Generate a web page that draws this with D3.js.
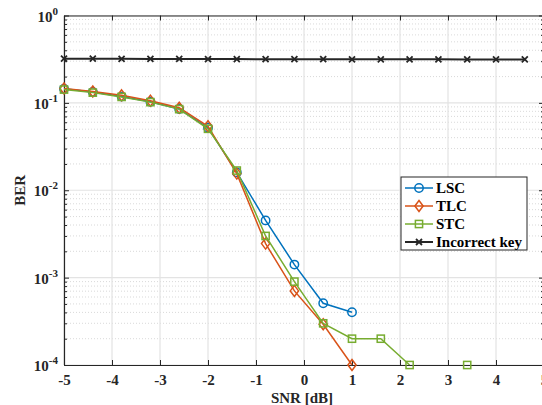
<!DOCTYPE html>
<html>
<head>
<meta charset="utf-8">
<script src="https://cdn.jsdelivr.net/npm/d3@7"></script>
<style>
  html, body { margin: 0; padding: 0; background: #fff; }
  svg { display: block; }
  text { font-family: "Liberation Serif", "Times New Roman", serif; font-weight: bold; }
</style>
</head>
<body>
<script>
// SNR sample points (dB)
const snrMain = [-5, -4.4, -3.8, -3.2, -2.6, -2.0, -1.4, -0.8, -0.2, 0.4, 1.0];
const snrSTC = [-5, -4.4, -3.8, -3.2, -2.6, -2.0, -1.4, -0.8, -0.2, 0.4, 1.0, 1.6, 2.2, 2.8, 3.4];
const snrKey = [-5, -4.4, -3.8, -3.2, -2.6, -2.0, -1.4, -0.8, -0.2, 0.4, 1.0, 1.6, 2.2, 2.8, 3.4, 4.0, 4.6];

// BER values per scheme (null = no error observed)
const berLSC = [0.145, 0.133, 0.118, 0.103, 0.085, 0.052, 0.0160, 0.00452, 0.00141, 0.000509, 0.000401];
const berTLC = [0.146, 0.135, 0.122, 0.106, 0.088, 0.054, 0.0155, 0.00245, 0.000705, 0.000293, 0.0001];
const berSTC = [0.142, 0.131, 0.117, 0.102, 0.0848, 0.0505, 0.0168, 0.0030, 0.0009, 0.0003, 0.0002, 0.0002, 0.0001, null, 0.0001];
const berKey = [0.320, 0.320, 0.319, 0.318, 0.318, 0.317, 0.317, 0.316, 0.316, 0.316, 0.315, 0.315, 0.315, 0.315, 0.314, 0.314, 0.314];

const xTicks = [-5, -4, -3, -2, -1, 0, 1, 2, 3, 4, 5];
const yTicks = [1e-4, 1e-3, 1e-2, 1e-1, 1];

const W = 542, H = 405;
const plot = { left: 64, right: 544, top: 15.5, bottom: 365 };

const svg = d3.select("body").append("svg").attr("width", W).attr("height", H);

const x = d3.scaleLinear().domain([-5, 5]).range([plot.left, plot.right]);
const y = d3.scaleLog().domain([1e-4, 1]).range([plot.bottom, plot.top]);

// minor decade values
const minor = [];
for (let e = -4; e < 0; e++) for (let m = 2; m <= 9; m++) minor.push(m * Math.pow(10, e));

const grid = svg.append("g");
// minor horizontal grid (dotted)
grid.selectAll("line.minor").data(minor).join("line")
  .attr("x1", plot.left).attr("x2", plot.right)
  .attr("y1", d => y(d)).attr("y2", d => y(d))
  .attr("stroke", "#cfcfcf").attr("stroke-width", 0.8).attr("stroke-dasharray", "1,2");
// major grid
grid.selectAll("line.hmaj").data(yTicks).join("line")
  .attr("x1", plot.left).attr("x2", plot.right)
  .attr("y1", d => y(d)).attr("y2", d => y(d))
  .attr("stroke", "#e3e3e3").attr("stroke-width", 1.2);
grid.selectAll("line.vmaj").data(xTicks).join("line")
  .attr("x1", d => x(d)).attr("x2", d => x(d))
  .attr("y1", plot.top).attr("y2", plot.bottom)
  .attr("stroke", "#e3e3e3").attr("stroke-width", 1.2);

// axes (ticks inward)
const axisColor = "#262626";
const fmtX = d => d3.format("d")(d).replace("−", "-");

const xAxisB = svg.append("g").attr("transform", `translate(0,${plot.bottom})`)
  .call(d3.axisBottom(x).tickValues(xTicks).tickFormat(fmtX).tickSizeInner(-5).tickSizeOuter(0).tickPadding(9));
const xAxisT = svg.append("g").attr("transform", `translate(0,${plot.top})`)
  .call(d3.axisTop(x).tickValues(xTicks).tickFormat("").tickSizeInner(-5).tickSizeOuter(0));
const yAxisL = svg.append("g").attr("transform", `translate(${plot.left},0)`)
  .call(d3.axisLeft(y).tickValues(yTicks).tickFormat("").tickSizeInner(-5).tickSizeOuter(0));
const yAxisR = svg.append("g").attr("transform", `translate(${plot.right},0)`)
  .call(d3.axisRight(y).tickValues(yTicks).tickFormat("").tickSizeInner(-5).tickSizeOuter(0));
const yMinorL = svg.append("g").attr("transform", `translate(${plot.left},0)`)
  .call(d3.axisLeft(y).tickValues(minor).tickFormat("").tickSizeInner(-3).tickSizeOuter(0));
const yMinorR = svg.append("g").attr("transform", `translate(${plot.right},0)`)
  .call(d3.axisRight(y).tickValues(minor).tickFormat("").tickSizeInner(-3).tickSizeOuter(0));

[xAxisB, xAxisT, yAxisL, yAxisR, yMinorL, yMinorR].forEach(g => {
  g.selectAll("path.domain").attr("stroke", axisColor).attr("stroke-width", 1.1);
  g.selectAll(".tick line").attr("stroke", axisColor).attr("stroke-width", 1);
});
xAxisB.selectAll(".tick text").attr("fill", "#262626").attr("font-size", 15)
  .style("font-family", '"Liberation Serif", serif').style("font-weight", "bold");

// y tick labels: 10^n
const yLab = svg.append("g");
yTicks.forEach(v => {
  const e = Math.round(Math.log10(v));
  const t = yLab.append("text")
    .attr("x", plot.left - 6).attr("y", y(v) + 6)
    .attr("text-anchor", "end").attr("fill", "#262626").attr("font-size", 15);
  t.append("tspan").text("10");
  t.append("tspan").attr("dy", -7).attr("font-size", 11).text(String(e).replace("−", "-"));
});

// axis titles
svg.append("text").attr("x", (plot.left + plot.right) / 2 - 2).attr("y", 403)
  .attr("text-anchor", "middle").attr("font-size", 15).attr("fill", "#262626").text("SNR [dB]");
svg.append("text").attr("transform", `translate(25,${(plot.top + plot.bottom) / 2}) rotate(-90)`)
  .attr("text-anchor", "middle").attr("font-size", 15).attr("fill", "#262626").text("BER");

// series
const series = [
  { name: "LSC", xs: snrMain, ys: berLSC, color: "#0072BD", marker: "circle" },
  { name: "TLC", xs: snrMain, ys: berTLC, color: "#D95319", marker: "diamond" },
  { name: "STC", xs: snrSTC, ys: berSTC, color: "#77AC30", marker: "square" },
  { name: "Incorrect key", xs: snrKey, ys: berKey, color: "#262626", marker: "cross" }
];

svg.append("clipPath").attr("id", "plotclip").append("rect")
  .attr("x", plot.left - 8).attr("y", plot.top - 8)
  .attr("width", plot.right - plot.left + 16).attr("height", plot.bottom - plot.top + 16);

const line = d3.line().defined(d => d[1] != null).x(d => x(d[0])).y(d => y(d[1]));

function drawMarker(g, type, cx, cy, color) {
  if (type === "circle") {
    g.append("circle").attr("cx", cx).attr("cy", cy).attr("r", 4.2)
      .attr("fill", "none").attr("stroke", color).attr("stroke-width", 1.5);
  } else if (type === "diamond") {
    const r = 5.5;
    g.append("path").attr("d", `M${cx},${cy - r}L${cx + r * 0.75},${cy}L${cx},${cy + r}L${cx - r * 0.75},${cy}Z`)
      .attr("fill", "none").attr("stroke", color).attr("stroke-width", 1.5);
  } else if (type === "square") {
    const s = 3.6;
    g.append("rect").attr("x", cx - s).attr("y", cy - s).attr("width", 2 * s).attr("height", 2 * s)
      .attr("fill", "none").attr("stroke", color).attr("stroke-width", 1.5);
  } else {
    const s = 3;
    g.append("path").attr("d", `M${cx - s},${cy - s}L${cx + s},${cy + s}M${cx - s},${cy + s}L${cx + s},${cy - s}`)
      .attr("stroke", color).attr("stroke-width", 1.8);
  }
}

const dataG = svg.append("g").attr("clip-path", "url(#plotclip)");
series.forEach(s => {
  const pts = s.xs.map((v, i) => [v, s.ys[i]]);
  const g = dataG.append("g");
  g.append("path").datum(pts).attr("d", line)
    .attr("fill", "none").attr("stroke", s.color).attr("stroke-width", s.marker === "cross" ? 2 : 1.5);
  pts.filter(d => d[1] != null).forEach(d => drawMarker(g, s.marker, x(d[0]), y(d[1]), s.color));
});

// legend
const lg = svg.append("g").attr("transform", "translate(401,177)");
lg.append("rect").attr("x", 0).attr("y", 0).attr("width", 126).attr("height", 73)
  .attr("fill", "#fff").attr("stroke", "#262626").attr("stroke-width", 1);
series.forEach((s, i) => {
  const cy = 11 + i * 18;
  lg.append("line").attr("x1", 4).attr("x2", 32).attr("y1", cy).attr("y2", cy)
    .attr("stroke", s.color).attr("stroke-width", s.marker === "cross" ? 2 : 1.5);
  drawMarker(lg, s.marker, 18, cy, s.color);
  lg.append("text").attr("x", 35).attr("y", cy + 5).attr("font-size", 15).attr("fill", "#000").text(s.name);
});
</script>
</body>
</html>
